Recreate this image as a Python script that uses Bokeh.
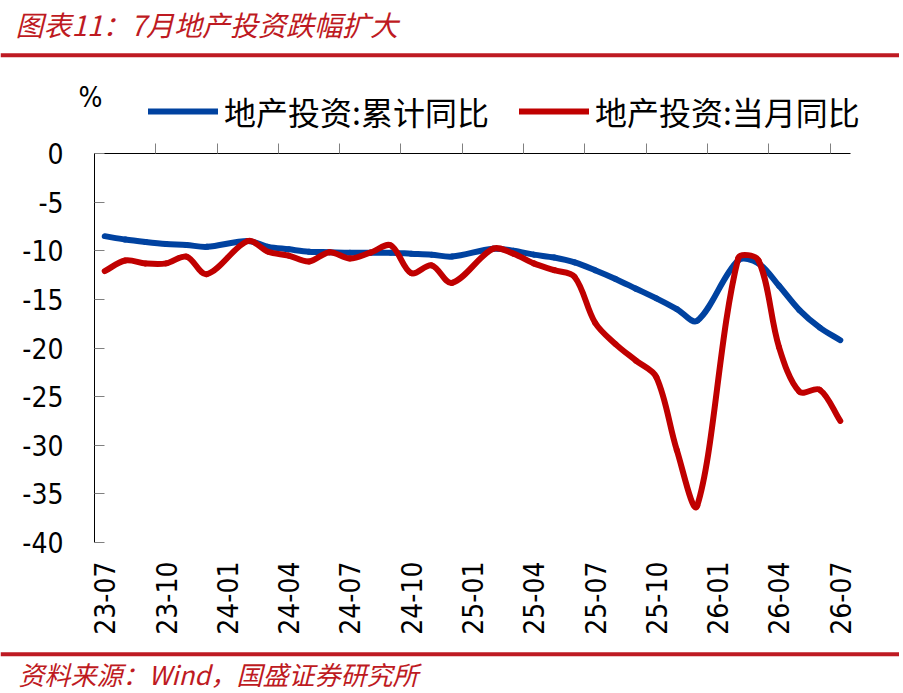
import math
from bokeh.plotting import figure
from bokeh.layouts import column
from bokeh.models import Range1d, LinearAxis, FixedTicker, Label, Span, Legend, LegendItem
from bokeh.embed import file_html
from bokeh.resources import INLINE

months = ["23-07", "23-08", "23-09", "23-10", "23-11", "23-12",
          "24-01", "24-02", "24-03", "24-04", "24-05", "24-06",
          "24-07", "24-08", "24-09", "24-10", "24-11", "24-12",
          "25-01", "25-02", "25-03", "25-04", "25-05", "25-06",
          "25-07", "25-08", "25-09", "25-10", "25-11", "25-12",
          "26-01", "26-02", "26-03", "26-04", "26-05", "26-06", "26-07"]

# 地产投资:累计同比 (January not published -> None)
cum_yoy = [-8.5, -8.85, -9.1, -9.3, -9.4, -9.6,
           None, -9.0, -9.6, -9.85, -10.1, -10.15,
           -10.2, -10.2, -10.2, -10.3, -10.4, -10.6,
           None, -9.8, -10.0, -10.4, -10.7, -11.2,
           -12.0, -12.9, -13.9, -14.9, -16.0, -17.2,
           None, -11.0, -11.3, -13.6, -16.1, -17.9, -19.2]

# 地产投资:当月同比
mon_yoy = [-12.1, -11.0, -11.3, -11.3, -10.6, -12.4,
           None, -9.0, -10.1, -10.5, -11.1, -10.15,
           -10.8, -10.2, -9.45, -12.3, -11.5, -13.3,
           None, -9.8, -10.3, -11.3, -12.0, -12.7,
           -17.4, -19.6, -21.3, -23.0, -30.5, -36.2,
           None, -10.8, -11.0, -19.9, -24.5, -24.3, -27.5]

series_names = ["地产投资:累计同比", "地产投资:当月同比"]
unit_text = "%"
y_ticks = [0, -5, -10, -15, -20, -25, -30, -35, -40]
y_tick_labels = ["0", "-5", "-10", "-15", "-20", "-25", "-30", "-35", "-40"]
label_every = 3
title_text = "图表11：7月地产投资跌幅扩大"
source_text = "资料来源：Wind，国盛证券研究所"

BLUE = "#0042A0"
RED = "#C00000"
BRAND = "#BE1A22"
TICK_FONT = "DejaVu Sans Condensed"
CJK_FONT = "Noto Sans CJK SC"
ASPECT = 20.4 / 9.725  # px per month / px per unit, for smoothing distances


def smooth(vals):
    pts = [(float(i), v) for i, v in enumerate(vals) if v is not None]
    n = len(pts)
    out = {k: [] for k in ("x0", "y0", "x1", "y1", "cx0", "cy0", "cx1", "cy1")}

    def dist(a, b):
        return (((b[0] - a[0]) * ASPECT) ** 2 + (b[1] - a[1]) ** 2) ** 0.5

    def ctrl(k):
        p0 = pts[max(k - 1, 0)]
        p1 = pts[k]
        p2 = pts[min(k + 1, n - 1)]
        d01 = dist(p0, p1)
        d12 = dist(p1, p2)
        s = d01 + d12
        tx, ty = p2[0] - p0[0], p2[1] - p0[1]
        if s == 0:
            return (0, 0), (0, 0)
        fin = d01 / s / 3.0
        fout = d12 / s / 3.0
        return (tx * fin, ty * fin), (tx * fout, ty * fout)

    for k in range(n - 1):
        a = pts[k]
        b = pts[k + 1]
        _, out_a = ctrl(k)
        in_b, _ = ctrl(k + 1)
        out["x0"].append(a[0]); out["y0"].append(a[1])
        out["x1"].append(b[0]); out["y1"].append(b[1])
        out["cx0"].append(a[0] + out_a[0]); out["cy0"].append(a[1] + out_a[1])
        out["cx1"].append(b[0] - in_b[0]); out["cy1"].append(b[1] - in_b[1])
    return out


W = 899
HEAD_H = 135
MAIN_H = 507
FOOT_H = 50

sb = smooth(cum_yoy)
sr = smooth(mon_yoy)
BEZ = dict(x0="x0", y0="y0", x1="x1", y1="y1", cx0="cx0", cy0="cy0", cx1="cx1", cy1="cy1")


def blank(h):
    f = figure(width=W, height=h, output_backend="svg", toolbar_location=None, title=None,
               x_axis_location=None, y_axis_location=None,
               x_range=Range1d(0, W), y_range=Range1d(h, 0),
               min_border=0, min_border_left=0, min_border_right=0,
               min_border_top=0, min_border_bottom=0)
    f.outline_line_color = None
    f.xgrid.visible = False
    f.ygrid.visible = False
    f.background_fill_color = "white"
    f.border_fill_color = "white"
    return f


# ---------------- header: title, rule, unit and legend ----------------
head = blank(HEAD_H)
head.add_layout(Label(x=15, y=23.5, text=title_text, text_font=CJK_FONT,
                      text_font_size="28px", text_font_style="italic",
                      text_baseline="middle", text_color=BRAND))
head.add_layout(Span(location=54.7, dimension="width", line_color=BRAND, line_width=4))
head.add_layout(Label(x=78, y=97, text=unit_text, text_font=TICK_FONT, text_font_size="28px",
                      text_baseline="middle", text_color="#000000"))
# series renderers (hidden here; they are drawn in the chart below) that key the legend
hb = head.bezier(**BEZ, source=sb, line_color=BLUE, line_width=6, line_cap="round", visible=False)
hr = head.bezier(**BEZ, source=sr, line_color=RED, line_width=6, line_cap="round", visible=False)
legend = Legend(items=[LegendItem(label=series_names[0], renderers=[hb]),
                       LegendItem(label=series_names[1], renderers=[hr])],
                orientation="horizontal", location=(148, 1),
                glyph_width=70, glyph_height=30, label_standoff=6, spacing=30,
                padding=0, margin=0, border_line_color=None, background_fill_alpha=0,
                inactive_fill_alpha=0,
                label_text_font=CJK_FONT, label_text_font_size="32px",
                label_text_color="#000000")
head.add_layout(legend)

# ---------------- main chart ----------------
p = figure(width=W, height=MAIN_H, output_backend="svg", toolbar_location=None,
           title=None, x_axis_location=None, y_axis_location=None,
           x_range=Range1d(-0.5, len(months) - 0.5), y_range=Range1d(-40, 0),
           min_border_left=94, min_border_right=49, min_border_top=18, min_border_bottom=100)
p.outline_line_color = None
p.xgrid.visible = False
p.ygrid.visible = False
p.background_fill_color = "white"
p.border_fill_color = "white"

ly = LinearAxis(ticker=FixedTicker(ticks=y_ticks, minor_ticks=[]))
ly.major_label_overrides = dict(zip(y_ticks, y_tick_labels))
ly.axis_line_color = "#000000"
ly.axis_line_width = 1
ly.major_tick_in = 10
ly.major_tick_out = 0
ly.major_tick_line_color = "#808080"
ly.minor_tick_line_color = None
ly.major_label_standoff = 31
ly.major_label_text_font = TICK_FONT
ly.major_label_text_font_size = "28px"
ly.major_label_text_color = "#000000"
p.add_layout(ly, "left")

sep_ticks = [i - 0.5 for i in range(label_every, len(months), label_every)]
tx = LinearAxis(ticker=FixedTicker(ticks=sep_ticks, minor_ticks=[]))
tx.major_label_overrides = {t: "" for t in sep_ticks}
tx.axis_line_color = "#000000"
tx.major_tick_in = 0
tx.major_tick_out = 10
tx.major_tick_line_color = "#808080"
tx.minor_tick_line_color = None
tx.major_label_standoff = 0
p.add_layout(tx, "above")

lab_ticks = list(range(0, len(months), label_every))
bx = LinearAxis(ticker=FixedTicker(ticks=lab_ticks, minor_ticks=[]))
bx.major_label_overrides = {i: months[i] for i in lab_ticks}
bx.axis_line_color = None
bx.major_tick_line_color = None
bx.minor_tick_line_color = None
bx.major_tick_in = 0
bx.major_tick_out = 0
bx.major_label_orientation = math.pi / 2
bx.major_label_standoff = 19
bx.major_label_text_font = TICK_FONT
bx.major_label_text_font_size = "28px"
bx.major_label_text_color = "#000000"
p.add_layout(bx, "below")

p.bezier(**BEZ, source=sb, line_color=BLUE, line_width=6, line_cap="round")
p.bezier(**BEZ, source=sr, line_color=RED, line_width=6, line_cap="round")

# ---------------- footer ----------------
foot = blank(FOOT_H)
foot.add_layout(Span(location=11.8, dimension="width", line_color=BRAND, line_width=4))
foot.add_layout(Label(x=18, y=31, text=source_text, text_font=CJK_FONT,
                      text_font_size="26px", text_font_style="italic",
                      text_baseline="middle", text_color=BRAND))

layout = column(column(head), column(p), column(foot), spacing=0)
open("out.html", "w").write(file_html(layout, INLINE))
